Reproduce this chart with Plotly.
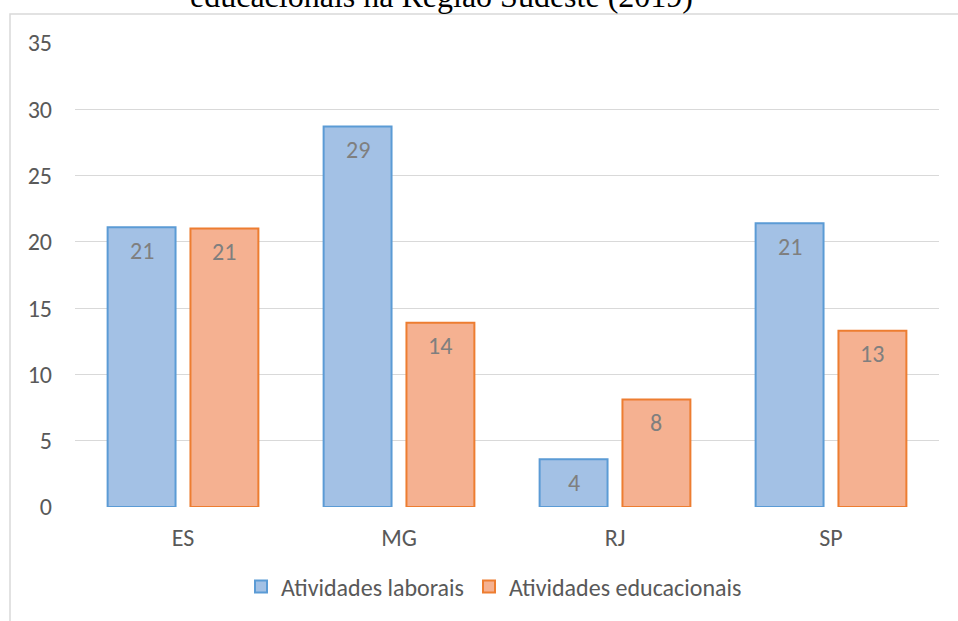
import plotly.graph_objects as go

# Data
estados = ["ES", "MG", "RJ", "SP"]
laborais = [21.1, 28.7, 3.6, 21.4]
educacionais = [21.0, 13.9, 8.1, 13.3]
y_ticks = [0, 5, 10, 15, 20, 25, 30, 35]
titulo = "educacionais na Região Sudeste (2019)"

W, H = 958, 621
M_L, M_R, M_T, M_B = 75, 19, 43, 114
plot_w = W - M_L - M_R
plot_h = H - M_T - M_B

BARGAP = 0.233
BARGROUPGAP = 0.18
slot = (1 - BARGAP) / 2

FONT = "Calibri, Carlito, Lato, sans-serif"
FS = 24
TICK_COLOR = "#595959"
LABEL_COLOR = "#7f7f7f"
GRID = "#d9d9d9"

xpos = list(range(len(estados)))

fig = go.Figure()
fig.add_trace(go.Bar(
    x=xpos, y=laborais, name="Atividades laborais",
    marker=dict(color="#a3c1e5", line=dict(color="#5b9bd5", width=2)),
    hoverinfo="y",
))
fig.add_trace(go.Bar(
    x=xpos, y=educacionais, name="Atividades educacionais",
    marker=dict(color="#f5b191", line=dict(color="#ed7d31", width=2)),
    hoverinfo="y",
))

# value labels just inside the top of each bar
annotations = []
for serie, off in ((laborais, -slot / 2), (educacionais, slot / 2)):
    for i, v in enumerate(serie):
        annotations.append(dict(
            x=i + off, y=v, xref="x", yref="y", text=f"{round(v)}",
            showarrow=False, yanchor="middle", yshift=-23,
            font=dict(family=FONT, size=FS, color=LABEL_COLOR),
        ))

# chart title (partly above the visible area)
annotations.append(dict(
    x=(441.5 - M_L) / plot_w, y=(507 - (-4.5)) / plot_h, xref="paper", yref="paper",
    text=titulo, showarrow=False, xanchor="center", yanchor="middle",
    font=dict(family="'Liberation Serif', 'Times New Roman', serif", size=32, color="#000000"),
))

# chart border
shapes = [dict(
    type="rect", xref="paper", yref="paper",
    x0=(10 - M_L) / plot_w, x1=(W + 20 - M_L) / plot_w,
    y0=(507 - (H + 20)) / plot_h, y1=(507 - 14) / plot_h,
    line=dict(color=GRID, width=1.5), fillcolor="rgba(0,0,0,0)", layer="below",
)]

fig.update_layout(
    width=W, height=H,
    margin=dict(l=M_L, r=M_R, t=M_T, b=M_B),
    paper_bgcolor="white", plot_bgcolor="white",
    barmode="group", bargap=BARGAP, bargroupgap=BARGROUPGAP,
    font=dict(family=FONT, size=FS, color=TICK_COLOR),
    showlegend=True,
    legend=dict(
        orientation="h", x=(494 - M_L) / plot_w, xanchor="center",
        y=(507 - 587) / plot_h, yanchor="middle",
        font=dict(family=FONT, size=FS, color=TICK_COLOR),
        itemwidth=30,
    ),
    annotations=annotations,
    shapes=shapes,
    xaxis=dict(
        range=[-0.5, len(estados) - 0.5],
        tickvals=xpos, ticktext=estados,
        ticks="outside", ticklen=9, tickcolor="rgba(0,0,0,0)",
        showgrid=False, zeroline=False, showline=False,
        tickfont=dict(family=FONT, size=FS, color=TICK_COLOR),
    ),
    yaxis=dict(
        range=[0, 35], tickvals=y_ticks,
        showgrid=True, gridcolor=GRID, gridwidth=1.3,
        zeroline=False, showline=False,
        ticklabelstandoff=22,
        tickfont=dict(family=FONT, size=FS, color=TICK_COLOR),
    ),
)

fig.write_html("out.html")
